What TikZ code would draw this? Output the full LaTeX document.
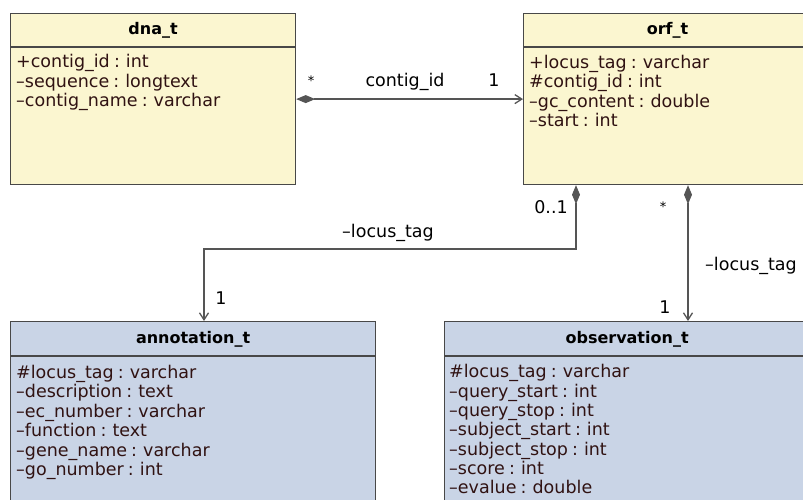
\documentclass[tikz,border=0pt]{standalone}
\usepackage{fontspec}
\setmainfont[WordSpace=0.75]{DejaVu Sans}
\usepackage{tikz}
\usetikzlibrary{arrows.meta,calc}
\definecolor{tblyellow}{RGB}{251,246,208}
\definecolor{tblblue}{RGB}{201,212,230}
\definecolor{boxline}{RGB}{72,72,72}
\definecolor{linkline}{RGB}{85,85,85}
\definecolor{attrtext}{RGB}{48,18,18}
\tikzset{
  tblbox/.style={draw=boxline, line width=1.2pt, anchor=north west, inner sep=0pt},
  boxsep/.style={draw=boxline, line width=1.2pt},
  tbltitle/.style={font=\fontsize{16}{19}\selectfont\bfseries, anchor=base, inner sep=0pt},
  attr/.style={font=\fontsize{17.5}{19.5}\selectfont, text=attrtext, anchor=base west, inner sep=0pt},
  linklabel/.style={font=\fontsize{17.5}{19.5}\selectfont, anchor=base, inner sep=0pt},
  starlabel/.style={font=\fontsize{13}{15}\selectfont, anchor=base, inner sep=0pt},
  comp/.style={draw=linkline, line width=1.3pt,
    {Diamond[length=19pt,width=8pt]}-{Straight Barb[length=7pt,width=9pt]}}
}

\begin{document}
\begin{tikzpicture}[x=1pt,y=-1pt]
  \clip (0,0) rectangle (803,500);
  % tables
  \node[tblbox, fill=tblyellow, minimum width=285pt, minimum height=171pt] (dna) at (10,13) {};
  \node[tblbox, fill=tblyellow, minimum width=288pt, minimum height=171pt] (orf) at (523,13) {};
  \node[tblbox, fill=tblblue, minimum width=365pt, minimum height=200pt] (annot) at (10,321) {};
  \node[tblbox, fill=tblblue, minimum width=365pt, minimum height=200pt] (obs) at (444,321) {};
  \draw[boxsep] ([yshift=-34pt]dna.north west) -- ([yshift=-34pt]dna.north east);
  \draw[boxsep] ([yshift=-34pt]orf.north west) -- ([yshift=-34pt]orf.north east);
  \draw[boxsep] ([yshift=-35pt]annot.north west) -- ([yshift=-35pt]annot.north east);
  \draw[boxsep] ([yshift=-35pt]obs.north west) -- ([yshift=-35pt]obs.north east);
  \node[tbltitle] (dnaT) at ($(dna.north)+(0,22)$) {dna\_t};
  \node[tbltitle] (orfT) at ($(orf.north)+(0,22)$) {orf\_t};
  \node[tbltitle] (annotT) at ($(annot.north)+(0,22)$) {annotation\_t};
  \node[tbltitle] (obsT) at ($(obs.north)+(0,22)$) {observation\_t};
  % columns
  \foreach \attrtxt [count=\i] in {+contig\_id : int, –sequence : longtext, –contig\_name : varchar}
    \node[attr] (dna-\i) at ($(dna.north west)+(6,{35.5+19.5*\i})$) {\attrtxt};
  \foreach \attrtxt [count=\i] in {+locus\_tag : varchar, \#contig\_id : int, –gc\_content : double, –start : int}
    \node[attr] (orf-\i) at ($(orf.north west)+(6,{36+19.5*\i})$) {\attrtxt};
  \foreach \attrtxt [count=\i] in {\#locus\_tag : varchar, –description : text, –ec\_number : varchar,
      –function : text, –gene\_name : varchar, –go\_number : int}
    \node[attr] (annot-\i) at ($(annot.north west)+(6,{37.5+19.5*\i})$) {\attrtxt};
  \foreach \attrtxt [count=\i] in {\#locus\_tag : varchar, –query\_start : int, –query\_stop : int,
      –subject\_start : int, –subject\_stop : int, –score : int, –evalue : double}
    \node[attr] (obs-\i) at ($(obs.north west)+(5,{37.5+19.3*\i})$) {\attrtxt};
  % links
  \coordinate (turn) at (204,249);
  \draw[comp] (dna.east) -- (orf.west);
  \draw[comp] ($(orf.south west)+(53,0)$) |- (turn) -- (turn |- annot.north);
  \draw[comp] ($(orf.south west)+(165,0)$) coordinate (drop) -- (drop |- obs.north);
  \node[starlabel] (mult1) at (311,86) {*};
  \node[linklabel] (role1) at (405,87) {contig\_id};
  \node[linklabel] (mult2) at (494,87) {1};
  \node[linklabel] (mult3) at (551,213) {0..1};
  \node[linklabel] (role2) at (388,237) {–locus\_tag};
  \node[linklabel] (mult4) at (221,304) {1};
  \node[starlabel] (mult5) at (663,211) {*};
  \node[linklabel] (role3) at (751,270) {–locus\_tag};
  \node[linklabel] (mult6) at (665,313) {1};
\end{tikzpicture}
\end{document}
